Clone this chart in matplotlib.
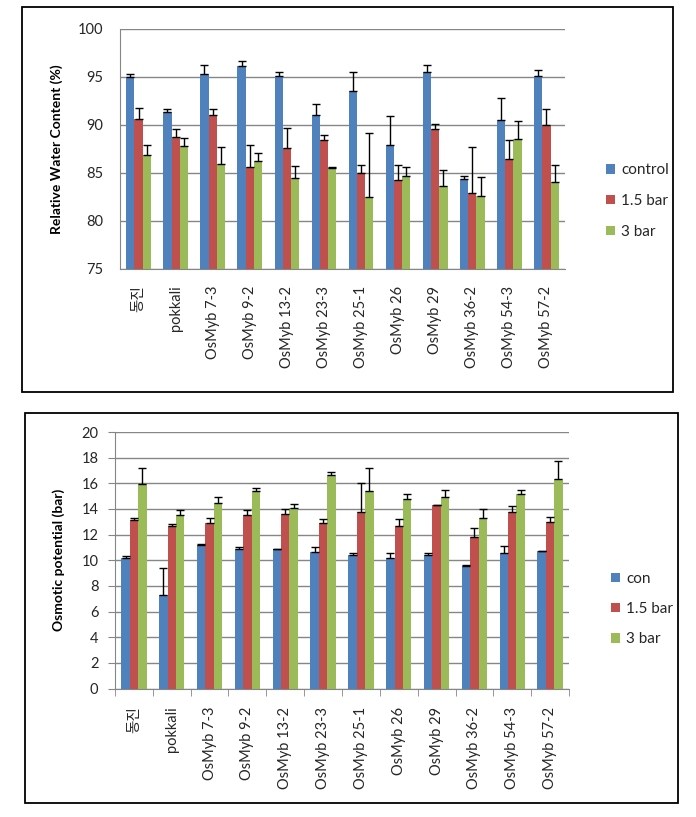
import numpy as np
from matplotlib import pyplot as plt
from matplotlib.patches import Rectangle

plt.rcParams['font.family'] = ['Lato', 'Noto Sans CJK KR', 'DejaVu Sans']

# 품종 / 계통
lines = ["동진", "pokkali", "OsMyb 7-3", "OsMyb 9-2", "OsMyb 13-2", "OsMyb 23-3",
         "OsMyb 25-1", "OsMyb 26", "OsMyb 29", "OsMyb 36-2", "OsMyb 54-3", "OsMyb 57-2"]

# Relative water content (%)
rwc_control = [95.0, 91.4, 95.3, 96.1, 95.1, 91.0, 93.5, 87.9, 95.5, 84.4, 90.5, 95.1]
rwc_control_err = [0.3, 0.3, 0.9, 0.6, 0.4, 1.2, 2.0, 3.0, 0.7, 0.3, 2.3, 0.6]
rwc_15 = [90.6, 88.7, 91.0, 85.6, 87.6, 88.4, 85.0, 84.3, 89.6, 82.9, 86.5, 90.0]
rwc_15_err = [1.2, 0.9, 0.7, 2.3, 2.1, 0.6, 0.8, 1.5, 0.5, 4.8, 1.9, 1.7]
rwc_3 = [86.9, 87.8, 85.9, 86.3, 84.5, 85.5, 82.5, 84.7, 83.6, 82.6, 88.5, 84.1]
rwc_3_err = [1.0, 0.8, 1.8, 0.8, 1.2, 0.1, 6.7, 0.9, 1.7, 2.0, 1.9, 1.7]

# Osmotic potential (bar)
op_con = [10.2, 7.3, 11.2, 10.85, 10.85, 10.65, 10.4, 10.2, 10.4, 9.55, 10.55, 10.7]
op_con_err = [0.15, 2.1, 0.05, 0.15, 0.05, 0.35, 0.15, 0.35, 0.15, 0.05, 0.6, 0.05]
op_15 = [13.1, 12.65, 12.9, 13.5, 13.6, 12.9, 13.8, 12.7, 14.27, 11.85, 13.8, 13.0]
op_15_err = [0.2, 0.15, 0.4, 0.4, 0.4, 0.3, 2.2, 0.5, 0.05, 0.65, 0.45, 0.4]
op_3 = [15.95, 13.5, 14.5, 15.4, 14.05, 16.65, 15.4, 14.8, 14.9, 13.3, 15.2, 16.35]
op_3_err = [1.25, 0.45, 0.45, 0.25, 0.35, 0.25, 1.8, 0.4, 0.55, 0.7, 0.25, 1.35]

colors = ['#4F81BD', '#C0504D', '#9BBB59']
grid_c = '#868686'
text_c = '#262626'

W, H = 696, 817
fig = plt.figure(figsize=(W / 100, H / 100), dpi=100)


def px_axes(l, t, r, b):
    return fig.add_axes([l / W, 1 - b / H, (r - l) / W, (b - t) / H])


def draw(ax, series, errs, labels, ylim, yticks, ticks_out):
    x = np.arange(len(lines))
    w = 1 / 4.5
    for k, (vals, e) in enumerate(zip(series, errs)):
        ax.bar(x + (k - 1) * w, vals, w, color=colors[k], label=labels[k], zorder=2,
               yerr=[np.zeros(len(e)), e], capsize=3,
               error_kw=dict(ecolor='black', elinewidth=1, capthick=1, zorder=3))
    ax.set_xlim(-0.5, len(lines) - 0.5)
    ax.set_ylim(*ylim)
    ax.set_yticks(yticks)
    ax.yaxis.grid(True, color=grid_c, lw=1, zorder=0)
    ax.set_axisbelow(True)
    for s in ['top', 'right']:
        ax.spines[s].set_visible(False)
    for s in ['left', 'bottom']:
        ax.spines[s].set_color(grid_c)
    ax.set_xticks(x)
    ax.set_xticklabels(lines, rotation=90, fontsize=10.5, color=text_c)
    if ticks_out:
        ax.set_xticks(np.arange(-0.5, len(lines), 1), minor=True)
        ax.tick_params(axis='x', which='minor', length=5, color=grid_c)
        ax.tick_params(axis='x', which='major', length=0, pad=13)
        ax.tick_params(axis='y', length=5, color=grid_c, pad=7, labelsize=10.5, labelcolor=text_c)
    else:
        ax.tick_params(axis='x', length=0, pad=12)
        ax.tick_params(axis='y', length=0, pad=12, labelsize=10.5, labelcolor=text_c)


# 위 그래프
ax1 = px_axes(120, 29, 565, 269)
draw(ax1, [rwc_control, rwc_15, rwc_3], [rwc_control_err, rwc_15_err, rwc_3_err],
     ['control', '1.5 bar', '3 bar'], (75, 100), np.arange(75, 101, 5), False)
ax1.set_ylabel('Relative Water Content (%)', fontsize=10, fontweight='bold')
ax1.yaxis.set_label_coords(-0.128, 0.5)
ax1.legend(loc='center left', bbox_to_anchor=(592 / W, 1 - 201 / H),
           bbox_transform=fig.transFigure, frameon=False, fontsize=11,
           handlelength=0.6, handleheight=0.6, handletextpad=0.4, labelspacing=1.1,
           labelcolor=text_c)

# 아래 그래프
ax2 = px_axes(115, 432, 569, 688.5)
draw(ax2, [op_con, op_15, op_3], [op_con_err, op_15_err, op_3_err],
     ['con', '1.5 bar', '3 bar'], (0, 20), np.arange(0, 21, 2), True)
ax2.set_ylabel('Osmotic potential (bar)', fontsize=10, fontweight='bold')
ax2.yaxis.set_label_coords(-0.11, 0.5)
ax2.legend(loc='center left', bbox_to_anchor=(597 / W, 1 - 609 / H),
           bbox_transform=fig.transFigure, frameon=False, fontsize=11,
           handlelength=0.6, handleheight=0.6, handletextpad=0.4, labelspacing=1.05,
           labelcolor=text_c)

# 테두리 상자
for l, t, r, b in [(22, 7, 673, 392), (25, 413, 678, 803)]:
    fig.add_artist(Rectangle((l / W, 1 - b / H), (r - l) / W, (b - t) / H,
                             transform=fig.transFigure, fill=False, ec='black', lw=1.3))

fig.savefig('out.png', dpi=100)
